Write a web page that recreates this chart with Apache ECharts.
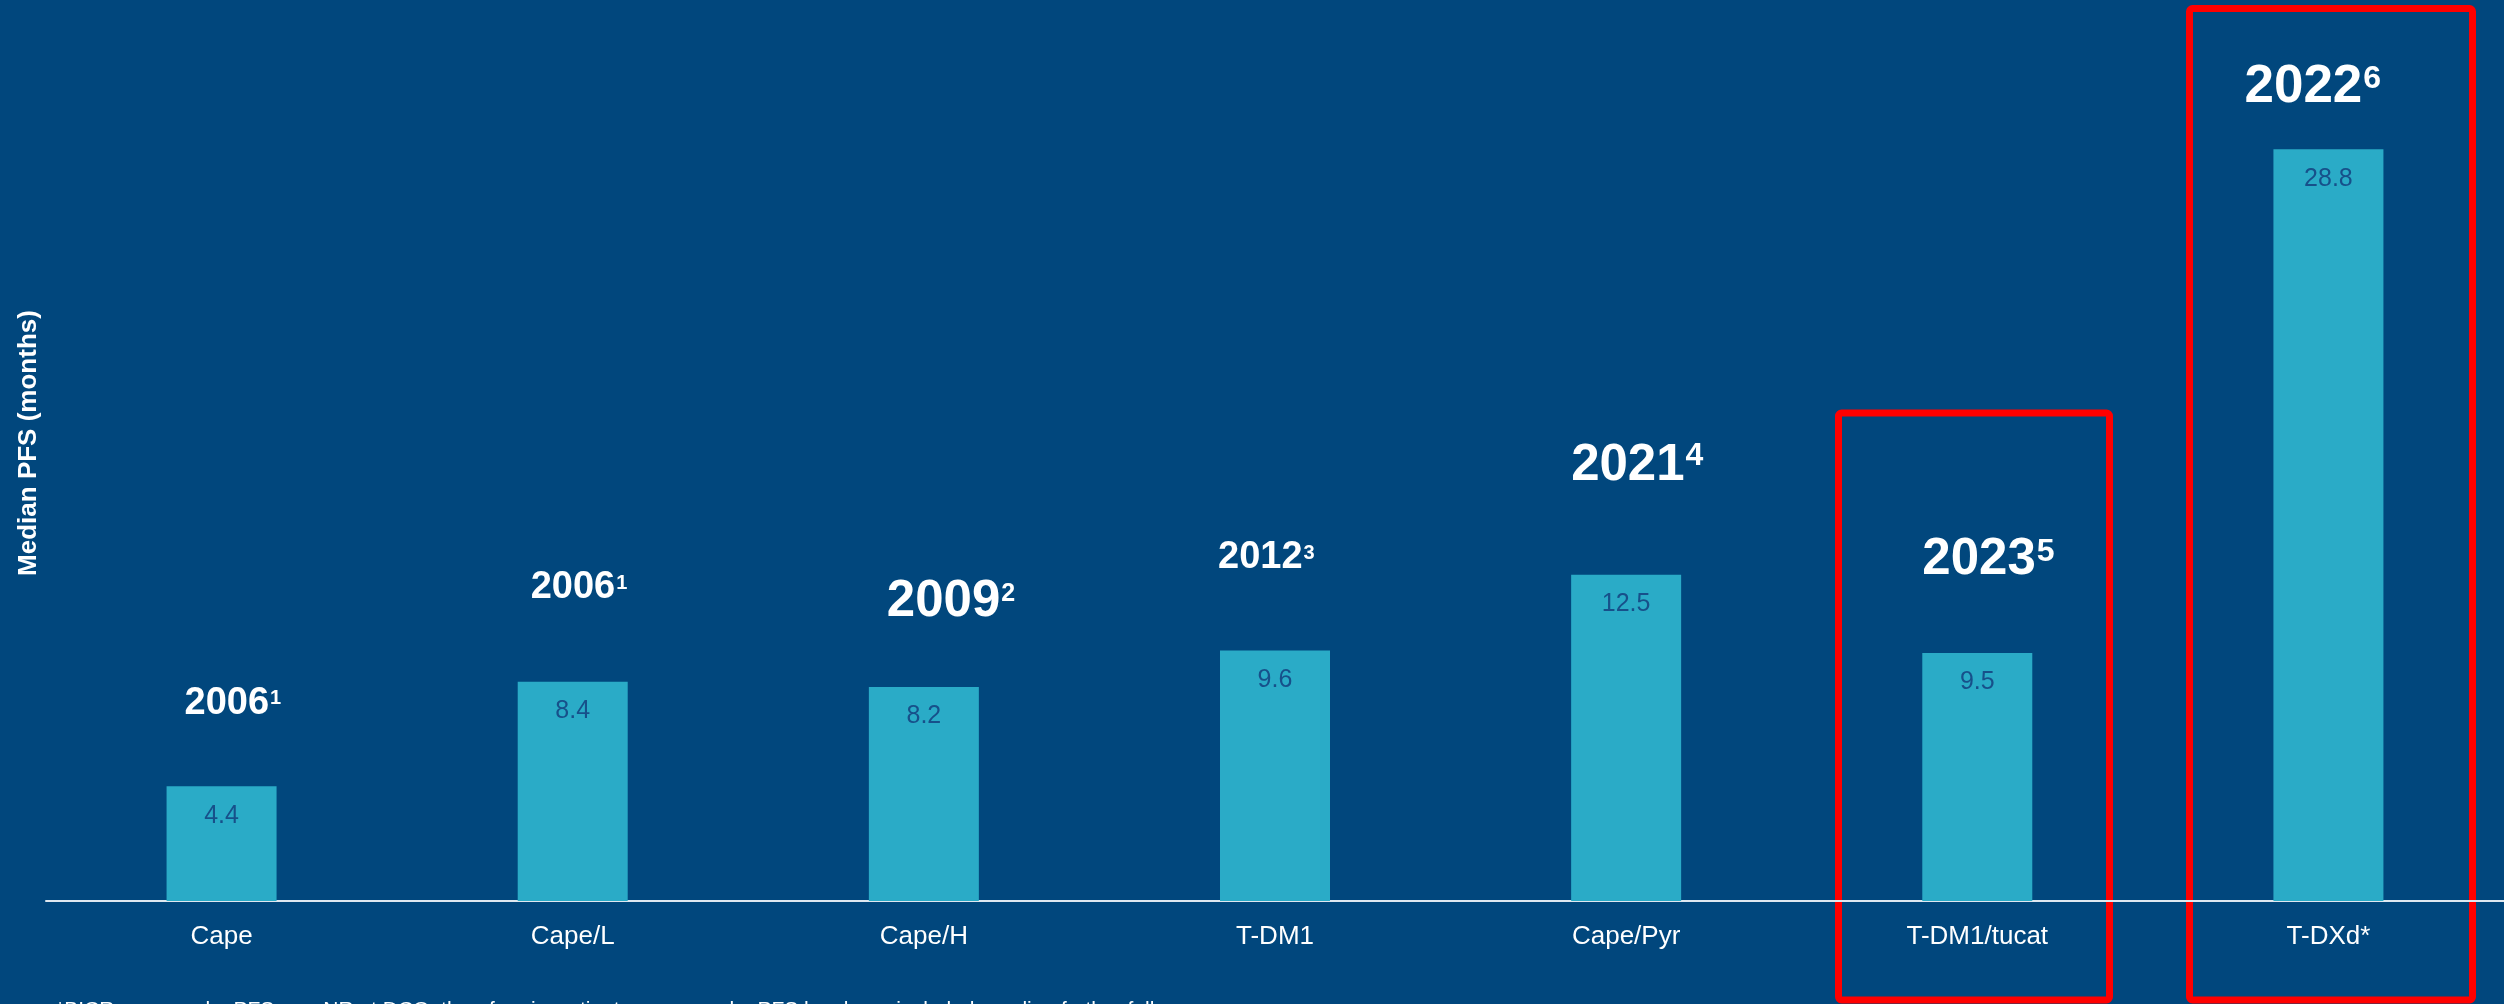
<!DOCTYPE html>
<html>
<head>
<meta charset="utf-8">
<script src="https://cdn.jsdelivr.net/npm/echarts@6/dist/echarts.min.js"></script>
<style>
  html, body { margin: 0; padding: 0; background: #01477d; }
  #chart { width: 2504px; height: 1004px; }
</style>
</head>
<body>
<div id="chart"></div>
<script>
const categories = ['Cape', 'Cape/L', 'Cape/H', 'T-DM1', 'Cape/Pyr', 'T-DM1/tucat', 'T-DXd*'];
const medianPfs = [4.4, 8.4, 8.2, 9.6, 12.5, 9.5, 28.8];
const years = ['2006', '2006', '2009', '2012', '2021', '2023', '2022'];
const refs = ['1', '1', '2', '3', '4', '5', '6'];
const axisTitle = 'Median PFS (months)';
const footnote = '*BICR-assessed mPFS was NR at DCO; therefore investigator-assessed mPFS has been included pending further follow-up';

const FONT = '"Liberation Sans", Arial, Helvetica, sans-serif';
const BG = '#01477d';

// year tags: [left offset from bar centre, cap top, font size, superscript cap top, superscript size]
const yearTagLayout = [
  [-37, 689, 38, 691, 20],
  [-42, 573, 38, 576, 20],
  [-37, 583, 51, 585, 25],
  [-57, 543, 38, 546, 20],
  [-55, 447, 51, 444, 32],
  [-55, 541, 51, 540, 32],
  [-84, 68, 53, 67, 32]
];

// highlight frames (x, y, width, height)
const frames = [
  [1838.5, 413, 271, 587],
  [2189.5, 8.5, 283, 991.5]
];

const chart = echarts.init(document.getElementById('chart'), null, { renderer: 'canvas' });

chart.setOption({
  backgroundColor: BG,
  animation: false,
  grid: { left: 46, right: -4, top: 118, bottom: 103 },
  xAxis: {
    type: 'category',
    data: categories,
    axisLine: { lineStyle: { color: '#dfe8f0', width: 2 } },
    axisTick: { show: false },
    axisLabel: { color: '#ffffff', fontSize: 26, fontFamily: FONT, margin: 23 }
  },
  yAxis: {
    type: 'value',
    min: 0,
    max: 30,
    show: false,
    splitLine: { show: false }
  },
  series: [{
    type: 'bar',
    data: medianPfs,
    barWidth: 110,
    itemStyle: { color: '#2aabc7' },
    label: {
      show: true,
      position: 'insideTop',
      distance: 17,
      color: '#17508a',
      fontSize: 25,
      fontFamily: FONT,
      formatter: p => p.value.toFixed(1)
    }
  }]
});

// width of a bold run of text, for placing the superscript right after the year
const measureCtx = document.createElement('canvas').getContext('2d');
function boldWidth(text, size) {
  measureCtx.font = 'bold ' + size + 'px ' + FONT;
  return measureCtx.measureText(text).width;
}

const graphics = [];

years.forEach((yr, i) => {
  const [dx, capTop, fs, supTop, supFs] = yearTagLayout[i];
  const cx = chart.convertToPixel({ xAxisIndex: 0 }, categories[i]);
  const left = cx + dx;
  graphics.push({
    type: 'text',
    x: left,
    y: capTop - 0.13 * fs,
    style: {
      text: yr, fill: '#ffffff', font: 'bold ' + fs + 'px ' + FONT,
      align: 'left', verticalAlign: 'top'
    }
  });
  graphics.push({
    type: 'text',
    x: left + boldWidth(yr, fs) + 1,
    y: supTop - 0.13 * supFs,
    style: {
      text: refs[i], fill: '#ffffff', font: 'bold ' + supFs + 'px ' + FONT,
      align: 'left', verticalAlign: 'top'
    }
  });
});

frames.forEach(([x, y, w, h]) => {
  graphics.push({
    type: 'rect',
    shape: { x, y, width: w, height: h, r: 3 },
    style: { fill: 'none', stroke: '#ff0000', lineWidth: 7 }
  });
});

graphics.push({
  type: 'text',
  x: 29,
  y: 443,
  rotation: Math.PI / 2,
  style: {
    text: axisTitle, fill: '#ffffff', font: 'bold 26px ' + FONT,
    align: 'center', verticalAlign: 'middle'
  }
});

graphics.push({
  type: 'text',
  x: 56,
  y: 1000,
  style: {
    text: footnote, fill: '#ffffff', font: '21px ' + FONT,
    align: 'left', verticalAlign: 'top'
  }
});

chart.setOption({ graphic: graphics });
</script>
</body>
</html>
